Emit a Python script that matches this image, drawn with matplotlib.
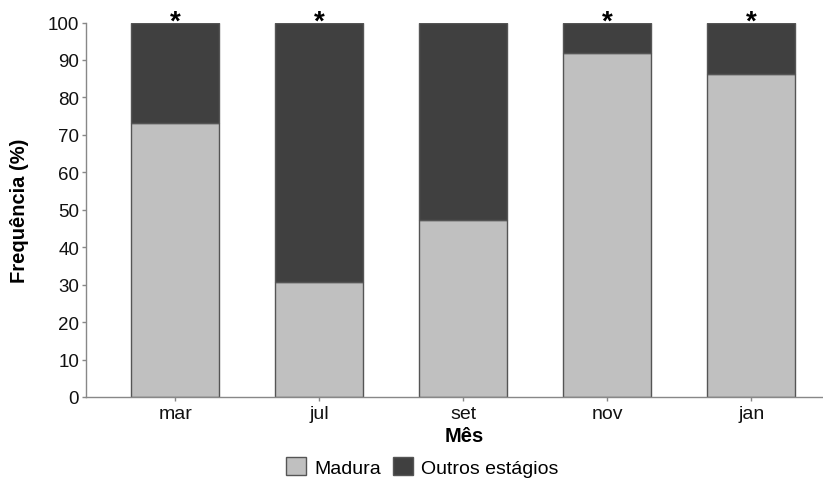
import matplotlib
matplotlib.use("Agg")
import matplotlib.pyplot as plt
from matplotlib.patches import Patch

plt.rcParams['font.family'] = ['Liberation Sans', 'DejaVu Sans']

months = ["mar", "jul", "set", "nov", "jan"]
madura = [73.2, 30.7, 47.3, 91.9, 86.2]
outros = [100 - v for v in madura]
significant = [True, True, False, True, True]

light = "#c0c0c0"
dark = "#404040"
edge = "#555555"
axis_grey = "#888888"

W, H = 823, 481
fig = plt.figure(figsize=(W / 100, H / 100), dpi=100)
ax = fig.add_axes([86 / W, 1 - 398 / H, (822 - 86) / W, (398 - 23.5) / H])

x = range(len(months))
ax.bar(x, madura, width=0.61, color=light, edgecolor=edge, linewidth=1.0, zorder=2)
ax.bar(x, outros, width=0.61, bottom=madura, color=dark, edgecolor=edge, linewidth=1.0, zorder=2)

# significance marks above the stacks
for xi, sig, m, o in zip(x, significant, madura, outros):
    if sig:
        ax.text(xi, m + o - 1.6, "*", ha="center", va="baseline", fontsize=20,
                fontweight="bold", color="black", clip_on=False)

ax.set_xlim(-0.62, 4.49)
ax.set_ylim(0, 100)
ax.set_yticks(range(0, 101, 10))
ax.set_xticks(list(x))
ax.set_xticklabels(months)
ax.tick_params(axis="both", color=axis_grey, length=3, width=1,
               labelcolor="#111111", pad=2)
ax.tick_params(axis="x", labelsize=14, pad=3)
ax.tick_params(axis="y", labelsize=13.5)

for side in ("top", "right"):
    ax.spines[side].set_visible(False)
for side in ("left", "bottom"):
    ax.spines[side].set_color(axis_grey)
    ax.spines[side].set_linewidth(1.0)

ax.set_xlabel("Mês", fontsize=14.5, fontweight="bold", va="center")
ax.xaxis.set_label_coords((464 - 86) / 736, (398 - 437) / 374.5)
ax.set_ylabel("Frequência (%)", fontsize=14.5, fontweight="bold", va="center")
ax.yaxis.set_label_coords((20 - 86) / 736, 0.5)

handles = [Patch(facecolor=light, edgecolor=edge, label="Madura"),
           Patch(facecolor=dark, edgecolor=edge, label="Outros estágios")]
fig.legend(handles=handles, loc="center", bbox_to_anchor=(422 / W, 1 - 468 / H),
           ncol=2, frameon=False, fontsize=14, handlelength=1.05, handleheight=1.05,
           handletextpad=0.4, columnspacing=0.6, borderaxespad=0, borderpad=0)

fig.savefig("out.png", dpi=100)
